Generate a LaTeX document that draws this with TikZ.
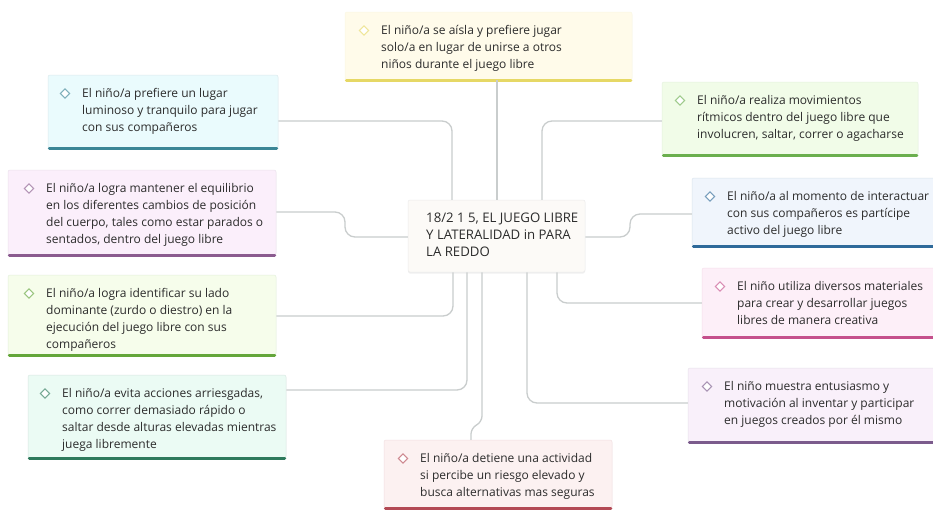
\documentclass[tikz,border=0pt]{standalone}
\usepackage{fontspec}
\setmainfont{Open Sans}
\usetikzlibrary{shadows}
\definecolor{txt}{HTML}{2C2C2C}
\definecolor{conncol}{HTML}{C9CDCD}
\definecolor{fYel}{HTML}{FFFBEA}\definecolor{bYel}{HTML}{E6D865}
\definecolor{fCya}{HTML}{EAFBFD}\definecolor{bCya}{HTML}{3B8696}
\definecolor{fGre}{HTML}{F1FCE8}\definecolor{bGre}{HTML}{6BAF4E}
\definecolor{fLav}{HTML}{FBEFFB}\definecolor{bLav}{HTML}{8B5B8F}
\definecolor{fBlu}{HTML}{F0F5FC}\definecolor{bBlu}{HTML}{2F6A9A}
\definecolor{fLgr}{HTML}{F6FDEB}\definecolor{bLgr}{HTML}{64A63A}
\definecolor{fPin}{HTML}{FDEFF8}\definecolor{bPin}{HTML}{C5508C}
\definecolor{fTea}{HTML}{EBFBF4}\definecolor{bTea}{HTML}{2E7A5C}
\definecolor{fPur}{HTML}{F9F0FA}\definecolor{bPur}{HTML}{7B5B8C}
\definecolor{fRed}{HTML}{FCF1F1}\definecolor{bRed}{HTML}{B34A55}
\definecolor{fCen}{HTML}{FCFAF7}
\tikzset{
  mmbox/.style={rectangle, rounded corners=2pt, inner sep=0pt, line width=0.5pt,
    drop shadow={opacity=0.12, shadow xshift=0pt, shadow yshift=-1.5pt}},
  mmbar/.style={line width=3pt, line cap=round},
  mmdiam/.style={rectangle, rotate=45, minimum size=6.5pt, inner sep=0pt, line width=1.1pt, fill=white},
  mmtext/.style={inner sep=0pt, align=left, text=txt, anchor=north west,
    font=\fontsize{12pt}{16.8pt}\selectfont},
  conn/.style={draw=conncol, line width=1.3pt, rounded corners=10pt},
}
\newcommand\mmbox[9]{%
  \node[mmbox, fill=#6, draw=#7!18, minimum width={(#4-#2)*1pt}, minimum height={(#5-#3)*1pt}] (#1) at ({(#2+#4)/2},{(#3+#5)/2}) {};
  \draw[mmbar, draw=#7] ([xshift=1.5pt]#1.south west) -- ([xshift=-1.5pt]#1.south east);
  \node[mmdiam, draw=#7!65] (#1d) at ({#9-17},{#3+18.5}) {};
  \node[mmtext] (#1t) at (#9,{#3+13.5}) {\mmcontent};
}
\begin{document}
\begin{tikzpicture}[x=1pt, y=-1pt]
\useasboundingbox (0,0) rectangle (933,509);
\fill[white] (0,0) rectangle (933,509);
\node[mmbox, fill=fCen, draw=black!8, minimum width=177pt, minimum height=72pt] (c) at (496.5,236) {};
\def\mmcontent{El niño/a se aísla y prefiere jugar\\solo/a en lugar de unirse a otros\\niños durante el juego libre}
\mmbox{b1}{345}{12}{632}{80}{fYel}{bYel}{}{381}
\def\mmcontent{El niño/a prefiere un lugar\\luminoso y tranquilo para jugar\\con sus compañeros}
\mmbox{b2}{48}{75}{278}{148}{fCya}{bCya}{}{82}
\def\mmcontent{El niño/a realiza movimientos\\rítmicos dentro del juego libre que\\involucren, saltar, correr o agacharse}
\mmbox{b3}{662}{82}{918}{155}{fGre}{bGre}{}{697}
\def\mmcontent{El niño/a logra mantener el equilibrio\\en los diferentes cambios de posición\\del cuerpo, tales como estar parados o\\sentados, dentro del juego libre}
\mmbox{b4}{8}{170}{276}{255}{fLav}{bLav}{}{46}
\def\mmcontent{El niño/a al momento de interactuar\\con sus compañeros es partícipe\\activo del juego libre}
\mmbox{b6}{692}{178}{940}{246}{fBlu}{bBlu}{}{727}
\def\mmcontent{El niño/a logra identificar su lado\\dominante (zurdo o diestro) en la\\ejecución del juego libre con sus\\compañeros}
\mmbox{b7}{8}{275}{276}{355}{fLgr}{bLgr}{}{46}
\def\mmcontent{El niño utiliza diversos materiales\\para crear y desarrollar juegos\\libres de manera creativa}
\mmbox{b8}{702}{268}{940}{337}{fPin}{bPin}{}{737}
\def\mmcontent{El niño/a evita acciones arriesgadas,\\como correr demasiado rápido o\\saltar desde alturas elevadas mientras\\juega libremente}
\mmbox{b9}{28}{375}{286}{458}{fTea}{bTea}{}{62}
\def\mmcontent{El niño muestra entusiasmo y\\motivación al inventar y participar\\en juegos creados por él mismo}
\mmbox{b10}{688}{368}{940}{442}{fPur}{bPur}{}{724}
\def\mmcontent{El niño/a detiene una actividad\\si percibe un riesgo elevado y\\busca alternativas mas seguras}
\mmbox{b11}{384}{440}{612}{508}{fRed}{bRed}{}{420}
% connector lines
\draw[conn] (b1.south -| 497,0) -- (c.north -| 497,0);
\draw[conn] (b2.east |- 0,121) -- (452,121) -- (c.north -| 452,0);
\draw[conn] (b3.west |- 0,121) -- (542,121) -- (c.north -| 542,0);
\draw[conn] (b4.east |- 0,212) -- (345,212) -- (345,237) -- (c.west |- 0,237);
\draw[conn] (c.east |- 0,237) -- (630,237) -- (630,214) -- (b6.west |- 0,214);
\draw[conn] (b7.east |- 0,316) -- (453,316) -- (c.south -| 453,0);
\draw[conn] (b9.east |- 0,390) -- (467,390) -- (c.south -| 467,0);
\draw[conn, rounded corners=6pt] (c.south -| 482,0) -- (482,422) -- (471,428) -- (b11.north -| 471,0);
\draw[conn] (c.south -| 557,0) -- (557,303) -- (b8.west |- 0,303);
\draw[conn] (c.south -| 527,0) -- (527,403) -- (b10.west |- 0,403);
\node[mmtext, font=\fontsize{13.2pt}{17pt}\selectfont] (ct) at (426,212.5) {18/2 1 5, EL JUEGO LIBRE\\Y LATERALIDAD in PARA\\LA REDDO};
\end{tikzpicture}
\end{document}
